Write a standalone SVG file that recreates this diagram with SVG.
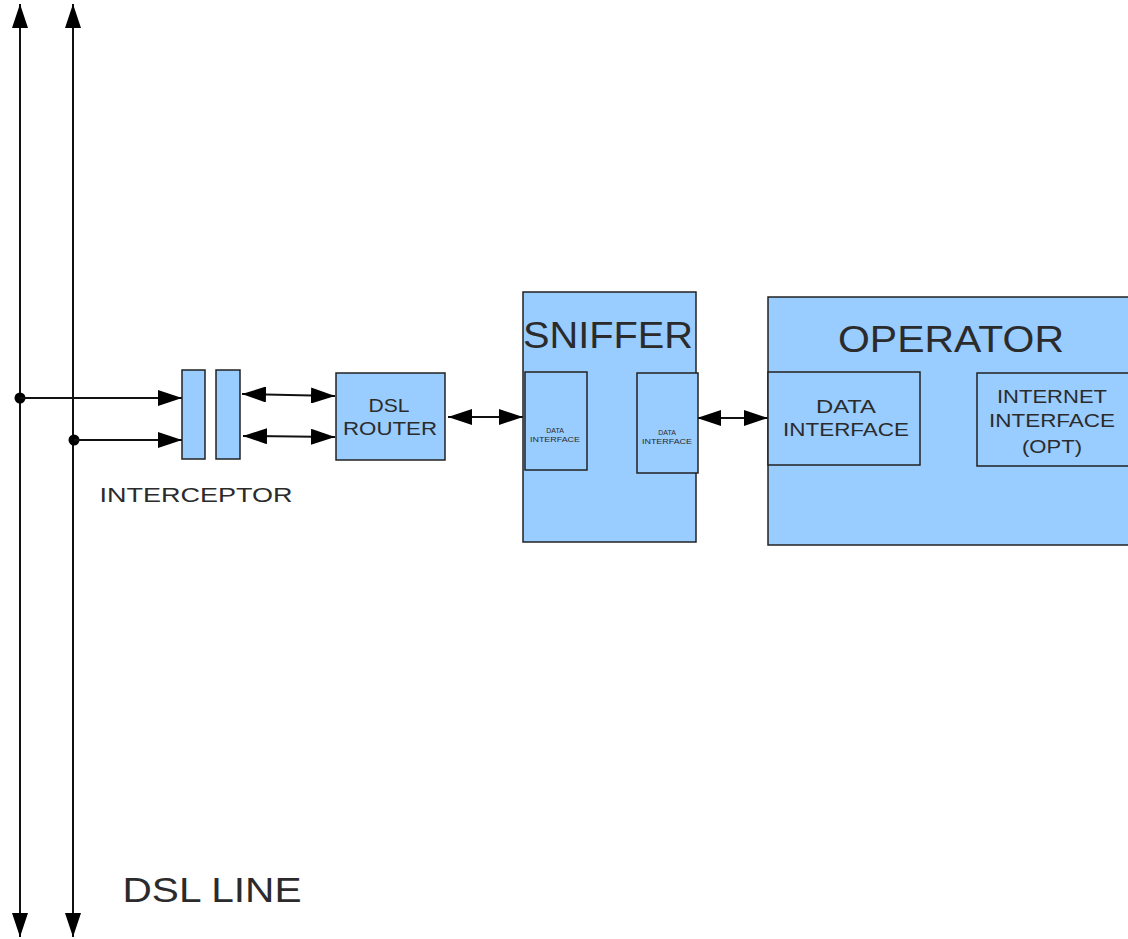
<svg xmlns="http://www.w3.org/2000/svg" width="1128" height="939" viewBox="0 0 1128 939">
  <style>
    .box { fill: #99ccff; stroke: #222; stroke-width: 1.5; }
    .wire { stroke: #111; stroke-width: 2; fill: none; }
    .lbl { font-family: "Liberation Sans", Arial, sans-serif; fill: #2b2b2b; text-anchor: middle; }
  </style>
  <defs>
    <marker id="head-v" viewBox="0 0 24 16" refX="24" refY="8" markerWidth="24" markerHeight="16" markerUnits="userSpaceOnUse" orient="auto-start-reverse">
      <path d="M0,0 L24,8 L0,16 z" fill="#000"/>
    </marker>
    <marker id="head-h" viewBox="0 0 24 16" refX="24" refY="8" markerWidth="24" markerHeight="16" markerUnits="userSpaceOnUse" orient="auto-start-reverse">
      <path d="M0,0 L24,8 L0,16 z" fill="#000"/>
    </marker>
  </defs>

  <rect width="1128" height="939" fill="#fff"/>

  <!-- connectors -->
  <g id="connectors">
    <!-- DSL line pair -->
    <line class="wire" x1="20" y1="937" x2="20" y2="4" marker-start="url(#head-v)" marker-end="url(#head-v)"/>
    <line class="wire" x1="73" y1="937" x2="73" y2="4" marker-start="url(#head-v)" marker-end="url(#head-v)"/>
    <!-- taps to interceptor -->
    <circle cx="20" cy="398" r="5.5" fill="#000"/>
    <circle cx="74" cy="440" r="5.5" fill="#000"/>
    <line class="wire" x1="20" y1="398" x2="182" y2="398" marker-end="url(#head-h)"/>
    <line class="wire" x1="74" y1="440" x2="182" y2="440" marker-end="url(#head-h)"/>
    <!-- interceptor to router -->
    <line class="wire" x1="242" y1="394" x2="335" y2="396" marker-start="url(#head-h)" marker-end="url(#head-h)"/>
    <line class="wire" x1="243" y1="436" x2="335" y2="437" marker-start="url(#head-h)" marker-end="url(#head-h)"/>
    <!-- router to sniffer -->
    <line class="wire" x1="448" y1="417" x2="523" y2="417" marker-start="url(#head-h)" marker-end="url(#head-h)"/>
    <!-- sniffer to operator -->
    <line class="wire" x1="697" y1="418" x2="768" y2="418" marker-start="url(#head-h)" marker-end="url(#head-h)"/>
  </g>

  <!-- interceptor -->
  <g id="interceptor">
    <rect class="box" x="182" y="370" width="23" height="89"/>
    <rect class="box" x="216" y="370" width="24" height="89"/>
    <text class="lbl" x="196" y="502" font-size="21" textLength="193" lengthAdjust="spacingAndGlyphs">INTERCEPTOR</text>
  </g>

  <!-- DSL router -->
  <g id="dsl-router">
    <rect class="box" x="336" y="373" width="109" height="87"/>
    <text class="lbl" x="389" y="412" font-size="18" textLength="41" lengthAdjust="spacingAndGlyphs">DSL</text>
    <text class="lbl" x="390" y="435" font-size="18" textLength="94" lengthAdjust="spacingAndGlyphs">ROUTER</text>
  </g>

  <!-- sniffer -->
  <g id="sniffer">
    <rect class="box" x="523" y="292" width="173" height="250"/>
    <text class="lbl" x="608" y="348" font-size="37" textLength="170" lengthAdjust="spacingAndGlyphs">SNIFFER</text>
    <rect class="box" x="525" y="372" width="62" height="98"/>
    <text class="lbl" x="555" y="433" font-size="7">DATA</text>
    <text class="lbl" x="555" y="442" font-size="7" textLength="50" lengthAdjust="spacingAndGlyphs">INTERFACE</text>
    <rect class="box" x="637" y="373" width="61" height="100"/>
    <text class="lbl" x="667" y="435" font-size="7">DATA</text>
    <text class="lbl" x="667" y="444" font-size="7" textLength="50" lengthAdjust="spacingAndGlyphs">INTERFACE</text>
  </g>

  <!-- operator -->
  <g id="operator">
    <rect class="box" x="768" y="297" width="370" height="248"/>
    <text class="lbl" x="951" y="352" font-size="37" textLength="226" lengthAdjust="spacingAndGlyphs">OPERATOR</text>
    <rect class="box" x="768" y="372" width="152" height="93"/>
    <text class="lbl" x="846" y="413" font-size="18" textLength="60" lengthAdjust="spacingAndGlyphs">DATA</text>
    <text class="lbl" x="846" y="436" font-size="18" textLength="126" lengthAdjust="spacingAndGlyphs">INTERFACE</text>
    <rect class="box" x="977" y="373" width="152" height="93"/>
    <text class="lbl" x="1052" y="403" font-size="18" textLength="110" lengthAdjust="spacingAndGlyphs">INTERNET</text>
    <text class="lbl" x="1052" y="427" font-size="18" textLength="126" lengthAdjust="spacingAndGlyphs">INTERFACE</text>
    <text class="lbl" x="1052" y="453" font-size="18" textLength="60" lengthAdjust="spacingAndGlyphs">(OPT)</text>
  </g>

  <!-- line label -->
  <g id="dsl-line-label">
    <text class="lbl" x="212" y="902" font-size="35" textLength="179" lengthAdjust="spacingAndGlyphs">DSL LINE</text>
  </g>
</svg>
